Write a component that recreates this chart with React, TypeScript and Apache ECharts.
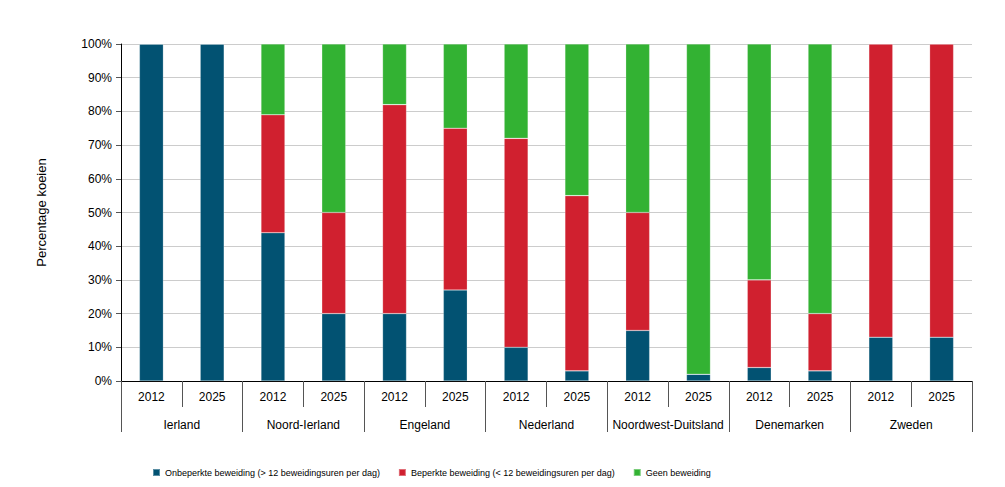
import React, { useEffect, useRef } from "react";
import * as echarts from "echarts";

const years = ["2012", "2025", "2012", "2025", "2012", "2025", "2012", "2025", "2012", "2025", "2012", "2025", "2012", "2025"];
const countries = ["Ierland", "Noord-Ierland", "Engeland", "Nederland", "Noordwest-Duitsland", "Denemarken", "Zweden"];
const yTicks = [0, 10, 20, 30, 40, 50, 60, 70, 80, 90, 100];

const onbeperkt = [100, 100, 44, 20, 20, 27, 10, 3, 15, 2, 4, 3, 13, 13];
const beperkt = [0, 0, 35, 30, 62, 48, 62, 52, 35, 0, 26, 17, 87, 87];
const geen = [0, 0, 21, 50, 18, 25, 28, 45, 50, 98, 70, 80, 0, 0];

const seriesNames = [
  "Onbeperkte beweiding (> 12 beweidingsuren per dag)",
  "Beperkte beweiding (< 12 beweidingsuren per dag)",
  "Geen beweiding",
];
const colors = ["#025272", "#D0202F", "#33B233"];

const FONT = "Liberation Sans, Arial, sans-serif";

export default function App() {
  const ref = useRef<HTMLDivElement>(null);
  useEffect(() => {
    document.body.style.margin = "0";
    if (!ref.current) return;
    const chart = echarts.init(ref.current, null, { renderer: "svg" });
    const mk = (name: string, data: number[], color: string) => ({
      name,
      type: "bar",
      stack: "total",
      xAxisIndex: 0,
      barWidth: 24,
      data,
      itemStyle: { color, borderColor: "rgba(255,255,255,0.35)", borderWidth: 0.6 },
    });
    chart.setOption({
      animation: false,
      backgroundColor: "#fff",
      textStyle: { fontFamily: FONT },
      grid: { left: 121, right: 33, top: 44, bottom: 106 },
      legend: {
        left: 147,
        top: 463,
        icon: "rect",
        itemWidth: 7,
        itemHeight: 7,
        itemGap: 18,
        textStyle: { fontFamily: FONT, fontSize: 9, color: "#000" },
        data: seriesNames,
      },
      xAxis: [
        {
          type: "category",
          data: years,
          position: "bottom",
          boundaryGap: true,
          axisLine: { show: true, lineStyle: { color: "#000", width: 1 } },
          axisTick: { show: true, interval: 0, length: 26, lineStyle: { color: "#555" } },
          axisLabel: { interval: 0, margin: 10, fontSize: 12, color: "#000", fontFamily: FONT },
        },
        {
          type: "category",
          data: countries,
          position: "bottom",
          boundaryGap: true,
          axisLine: { show: false },
          axisTick: { show: true, interval: 0, length: 51, lineStyle: { color: "#555" } },
          axisLabel: { interval: 0, margin: 38, fontSize: 12, color: "#000", fontFamily: FONT },
        },
      ],
      yAxis: {
        type: "value",
        min: 0,
        max: 100,
        interval: 10,
        name: "Percentage koeien",
        nameLocation: "middle",
        nameGap: 73,
        nameRotate: 90,
        nameTextStyle: { fontSize: 13, color: "#000", fontFamily: FONT },
        axisLine: { show: true, lineStyle: { color: "#000" } },
        axisTick: { show: true, length: 5, lineStyle: { color: "#555" } },
        axisLabel: {
          fontSize: 12,
          color: "#000",
          margin: 9,
          formatter: (v: number) => (yTicks.includes(v) ? v + "%" : ""),
        },
        splitLine: { show: true, lineStyle: { color: "#cccccc", width: 1 } },
      },
      series: [
        mk(seriesNames[0], onbeperkt, colors[0]),
        mk(seriesNames[1], beperkt, colors[1]),
        mk(seriesNames[2], geen, colors[2]),
      ],
    });
    return () => chart.dispose();
  }, []);
  return <div ref={ref} style={{ width: 1005, height: 487 }} />;
}
